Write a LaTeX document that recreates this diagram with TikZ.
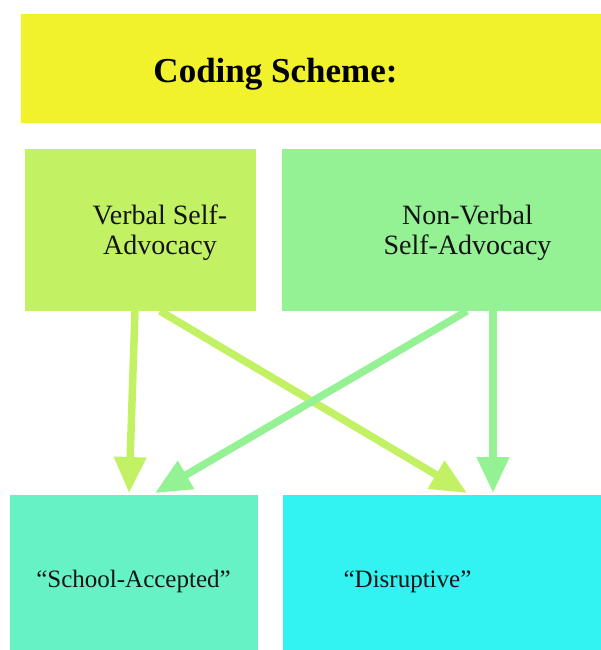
\documentclass[tikz,border=0pt]{standalone}
\usepackage{fontspec}
\setmainfont{Liberation Serif}[Ligatures=TeX]
\usetikzlibrary{arrows.meta,calc}

\definecolor{headyellow}{HTML}{F1F12C}
\definecolor{verballime}{HTML}{C2F264}
\definecolor{nonverbalgreen}{HTML}{94F294}
\definecolor{acceptedaqua}{HTML}{66F2C4}
\definecolor{disruptcyan}{HTML}{33F2F2}
\definecolor{inktext}{HTML}{141414}

\begin{document}
\begin{tikzpicture}[x=1pt,y=-1pt,
  panel/.style={draw=none,inner sep=0pt,outer sep=0pt,anchor=north west},
  headtext/.style={anchor=base,inner sep=0pt,font=\fontsize{35}{40}\selectfont\bfseries,text=black},
  boxtext/.style={inner sep=0pt,align=center,font=\fontsize{28}{30}\selectfont,text=inktext},
  outtext/.style={inner sep=0pt,anchor=base,font=\fontsize{25}{28}\selectfont,text=inktext},
  link/.style={line width=7.5pt,-{Triangle[width=31pt,length=36pt]}}]

  \useasboundingbox (0,0) rectangle (601,650);

  % heading bar
  \node[panel,fill=headyellow,minimum width=580pt,minimum height=109pt] (head) at (21,14) {};
  \node[headtext] (headlbl) at (275.5,83) {Coding Scheme:};

  % source categories
  \node[panel,fill=verballime,minimum width=231pt,minimum height=162pt] (verbal) at (25,149) {};
  \node[boxtext,anchor=center] (verballbl) at (160,233) {Verbal Self-\\Advocacy};
  \node[panel,fill=nonverbalgreen,minimum width=319pt,minimum height=162pt] (nonverbal) at (282,149) {};
  \node[boxtext,anchor=center] (nonverballbl) at (467.5,233) {Non-Verbal\\Self-Advocacy};

  % outcome categories
  \node[panel,fill=acceptedaqua,minimum width=248pt,minimum height=155pt] (accepted) at (10,495) {};
  \node[outtext] (acceptedlbl) at (133.5,587) {``School-Accepted''};
  \node[panel,fill=disruptcyan,minimum width=318pt,minimum height=155pt] (disrupt) at (283,495) {};
  \node[outtext] (disruptlbl) at (407.5,587) {``Disruptive''};

  % connectors
  \draw[link,verballime] ($(verbal.south west)+(110,0)$) -- ($(accepted.north west)+(119,-2)$);
  \draw[link,verballime] ($(verbal.south west)+(135,0)$) -- ($(disrupt.north west)+(184,-2)$);
  \draw[link,nonverbalgreen] ($(nonverbal.south west)+(185,0)$) -- ($(accepted.north west)+(145,-2)$);
  \draw[link,nonverbalgreen] ($(nonverbal.south west)+(211,0)$) -- ($(disrupt.north west)+(210,-2)$);
\end{tikzpicture}
\end{document}
